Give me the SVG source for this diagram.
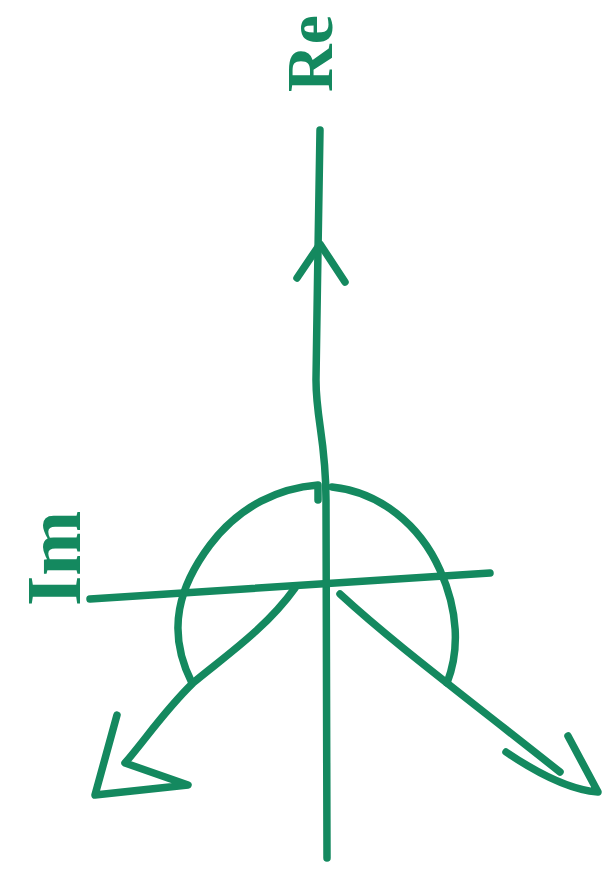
<svg xmlns="http://www.w3.org/2000/svg" width="605" height="869" viewBox="0 0 605 869">
<style>
.s{fill:none;stroke:#14895f;stroke-width:7.5;stroke-linecap:round;stroke-linejoin:round}
.t{fill:#14895f;font-family:"Liberation Serif",serif;font-weight:bold}
</style>
<rect width="605" height="869" fill="#ffffff"/>
<g id="label-re">
<text class="t" font-size="66" transform="translate(332,92) rotate(-90)">Re</text>
</g>
<g id="label-im">
<text class="t" font-size="78" transform="translate(80,606) rotate(-90)">Im</text>
</g>
<g id="connectors">
<path id="re-axis" class="s" d="M320,130 C319,200 317,300 316,380 C316,420 326,440 326,500 L327,858"/>
<path id="re-arrowhead" class="s" d="M297,278 L320,244 L345,282"/>
<path id="im-axis" class="s" d="M90,599 L490,573"/>
<path id="loop" class="s" d="M318,500 L318,485 C280,488 240,505 210,545 C180,585 165,630 192,683"/>
<path id="loop-right" class="s" d="M332,487 C380,492 420,525 440,570 C458,610 460,650 447,683"/>
<path id="arrow-left" class="s" d="M295,588 C265,630 220,660 193,683 C165,710 145,740 125,763 L188,785 L95,795 L117,715"/>
<path id="arrow-right" class="s" d="M340,594 C390,640 450,685 560,772"/>
<path id="arrow-right-head" class="s" d="M506,752 C540,775 570,790 598,792 L568,736"/>
</g>
</svg>
